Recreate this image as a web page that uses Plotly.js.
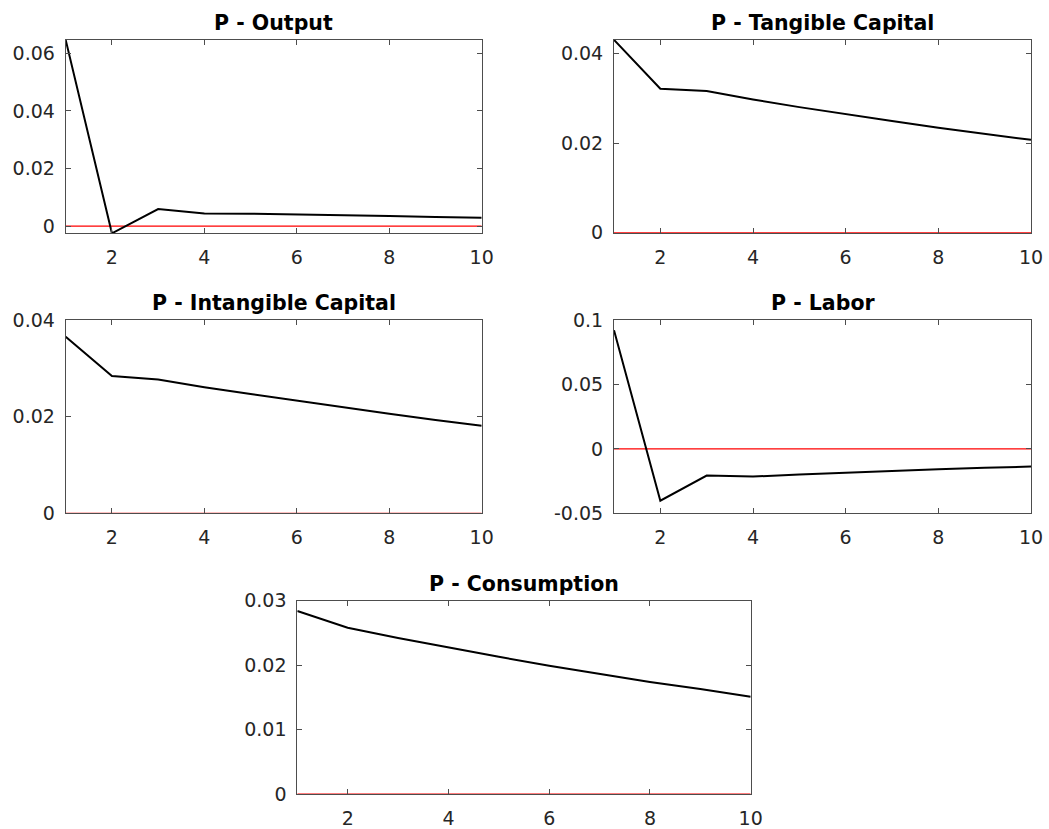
<!DOCTYPE html>
<html>
<head>
<meta charset="utf-8">
<script src="https://cdn.plot.ly/plotly-3.0.1.min.js"></script>
<style>html,body{margin:0;padding:0;background:#fff;}#chart{width:1049px;height:829px;}</style>
</head>
<body>
<div id="chart"></div>
<script>
// ---- data ----
const periods = [1, 2, 3, 4, 5, 6, 7, 8, 9, 10];
const zeroLine = [0, 0, 0, 0, 0, 0, 0, 0, 0, 0];

const output = [0.0646, -0.0025, 0.0059, 0.0044, 0.0043, 0.0041, 0.0038, 0.0035, 0.0032, 0.0029];
const tangibleCapital = [0.0430, 0.0321, 0.0316, 0.0297, 0.0280, 0.0264, 0.0249, 0.0234, 0.0220, 0.0207];
const intangibleCapital = [0.03655, 0.0284, 0.0277, 0.0261, 0.0247, 0.0233, 0.0219, 0.0206, 0.0193, 0.0181];
const labor = [0.092, -0.0402, -0.0207, -0.0215, -0.0199, -0.0184, -0.0171, -0.0158, -0.0147, -0.0137];
const consumption = [0.0284, 0.0258, 0.0242, 0.0227, 0.0213, 0.0199, 0.0186, 0.0174, 0.0163, 0.0151];

const titles = ["P - Output", "P - Tangible Capital", "P - Intangible Capital", "P - Labor", "P - Consumption"];

const xTickVals = [2, 4, 6, 8, 10];
const xTickText = ["2", "4", "6", "8", "10"];
const yTickVals1 = [0, 0.02, 0.04, 0.06];
const yTickText1 = ["0", "0.02", "0.04", "0.06"];
const yTickVals2 = [0, 0.02, 0.04];
const yTickText2 = ["0", "0.02", "0.04"];
const yTickVals3 = [0, 0.02, 0.04];
const yTickText3 = ["0", "0.02", "0.04"];
const yTickVals4 = [-0.05, 0, 0.05, 0.1];
const yTickText4 = ["-0.05", "0", "0.05", "0.1"];
const yTickVals5 = [0, 0.01, 0.02, 0.03];
const yTickText5 = ["0", "0.01", "0.02", "0.03"];

// ---- layout helpers ----
const W = 1049, H = 829;
const panels = [
  {l: 65.7, r: 481.7, t: 40, b: 233.3, yr: [-0.0025, 0.0646], tv: yTickVals1, tt: yTickText1, data: output},
  {l: 614, r: 1031, t: 40, b: 232.7, yr: [0, 0.04297], tv: yTickVals2, tt: yTickText2, data: tangibleCapital},
  {l: 65.7, r: 481.7, t: 320, b: 513.3, yr: [0, 0.04], tv: yTickVals3, tt: yTickText3, data: intangibleCapital},
  {l: 614, r: 1031, t: 320, b: 513.3, yr: [-0.05, 0.1], tv: yTickVals4, tt: yTickText4, data: labor},
  {l: 297.3, r: 750.7, t: 600.7, b: 794, yr: [0, 0.03], tv: yTickVals5, tt: yTickText5, data: consumption}
];

const axColor = '#4d4d4d';
const tickFont = {family: 'DejaVu Sans, sans-serif', size: 19, color: '#262626'};
const traces = [];
const layout = {
  width: W, height: H,
  margin: {l: 0, r: 0, t: 0, b: 0},
  paper_bgcolor: '#ffffff', plot_bgcolor: '#ffffff',
  showlegend: false,
  annotations: []
};

panels.forEach((p, i) => {
  const n = i + 1;
  const xa = 'x' + (n === 1 ? '' : n), ya = 'y' + (n === 1 ? '' : n);
  traces.push({x: periods, y: zeroLine, xaxis: xa, yaxis: ya, mode: 'lines',
    line: {color: '#ff0000', width: 1.2}, hoverinfo: 'skip'});
  traces.push({x: periods, y: p.data, xaxis: xa, yaxis: ya, mode: 'lines',
    line: {color: '#000000', width: 2}});
  const common = {showgrid: false, zeroline: false, showline: true, linecolor: axColor, linewidth: 1,
    mirror: 'ticks', ticks: 'inside', ticklen: 5, tickcolor: axColor, tickwidth: 1, tickfont: tickFont};
  layout['xaxis' + (n === 1 ? '' : n)] = Object.assign({}, common, {
    domain: [p.l / W, p.r / W], range: [1, 10], anchor: ya,
    tickmode: 'array', tickvals: xTickVals, ticktext: xTickText, ticklabelstandoff: 7});
  layout['yaxis' + (n === 1 ? '' : n)] = Object.assign({}, common, {
    domain: [1 - p.b / H, 1 - p.t / H], range: p.yr, anchor: xa,
    tickmode: 'array', tickvals: p.tv, ticktext: p.tt, ticklabelstandoff: 6});
  layout.annotations.push({
    text: '<b>' + titles[i] + '</b>', xref: 'paper', yref: 'paper',
    x: (p.l + p.r) / 2 / W, y: 1 - (p.t - 17) / H, xanchor: 'center', yanchor: 'middle',
    showarrow: false, font: {family: 'DejaVu Sans, sans-serif', size: 20.5, color: '#000000'}
  });
});

Plotly.newPlot('chart', traces, layout, {displayModeBar: false, staticPlot: true});
</script>
</body>
</html>
